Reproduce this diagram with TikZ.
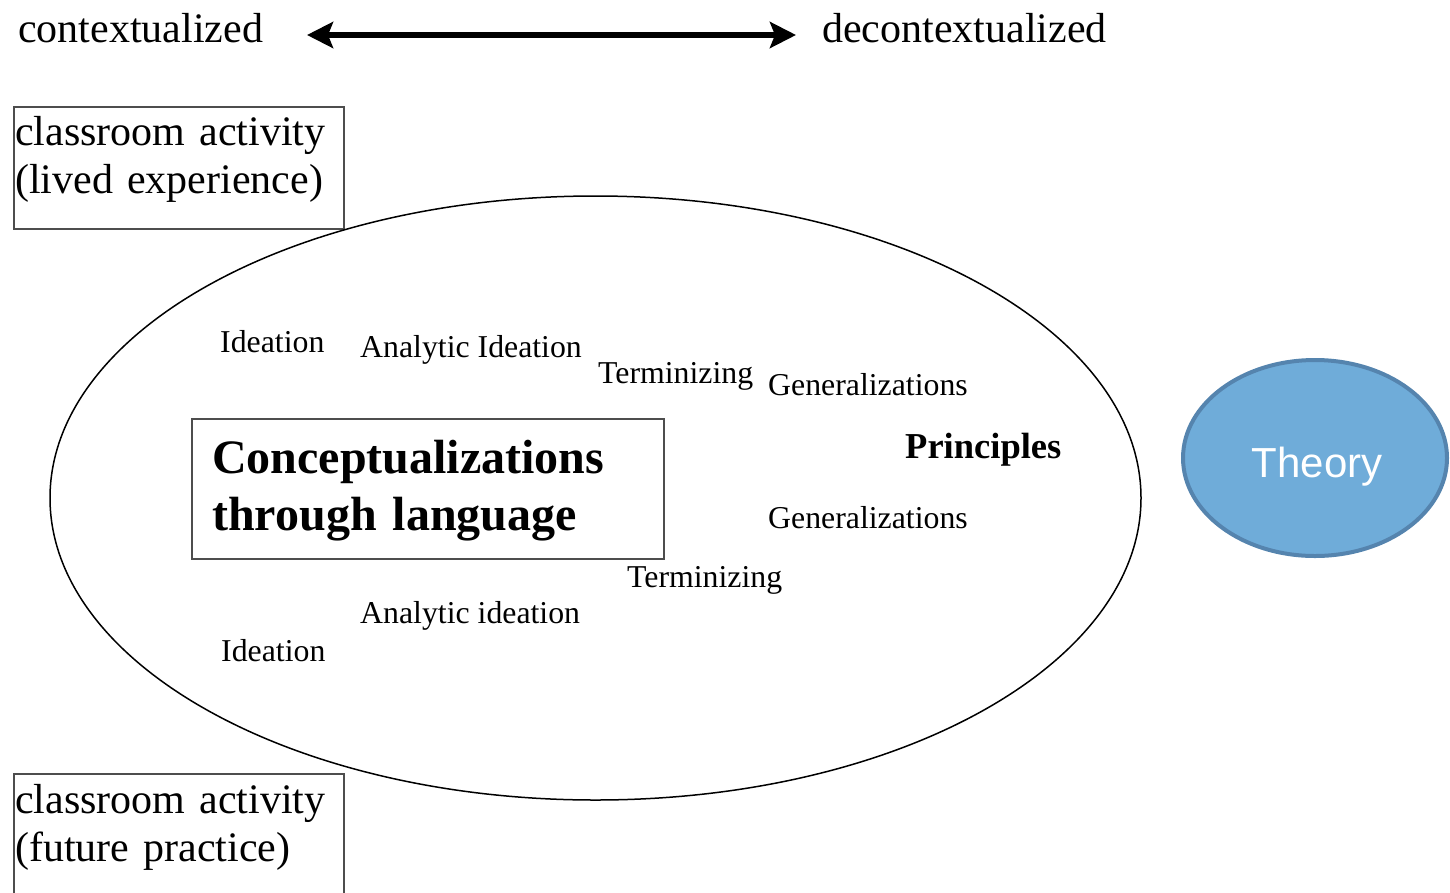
\documentclass[tikz,border=0pt]{standalone}
\usepackage{fontspec}
\setmainfont{Liberation Serif}
\newfontfamily\theoryfont{Liberation Sans}
\usepackage{xcolor}
\usepackage{tikz}
\usetikzlibrary{arrows.meta, positioning, shapes.geometric}
\definecolor{theoryfill}{HTML}{6FACD9}
\definecolor{theoryline}{HTML}{5584AE}
\definecolor{boxline}{HTML}{4D4D4D}

\begin{document}
\begin{tikzpicture}[x=1pt, y=-1pt,
    lbl/.style={anchor=base west, inner sep=0pt, font=\fontsize{42}{48}\selectfont},
    stage/.style={anchor=base west, inner sep=0pt, font=\fontsize{31.8}{36}\selectfont},
    frame/.style={draw=boxline, line width=2pt, anchor=north west, inner sep=0pt},
    bigtip/.tip={Stealth[length=26pt, width=26pt, inset=5pt]}]
    \useasboundingbox (0,0) rectangle (1450,892);
    \node[lbl] (ctx) at (18,42) {contextualized};
    \node[lbl] (dectx) at (822,42) {decontextualized};
    \coordinate (arrL) at (307,35);
    \coordinate (arrR) at (796,35);
    \draw[bigtip-bigtip, line width=6.5pt] (arrL) -- (arrR);
    \node[frame, minimum width=330, minimum height=122] (lived) at (13,106) {};
    \node[lbl, text width=330pt, align=left] (livedtxt) at (15,145)
      {classroom activity\\(lived experience)};
    \node[frame, minimum width=330, minimum height=140] (future) at (13,773) {};
    \node[lbl, text width=330pt, align=left] (futuretxt) at (15,813)
      {classroom activity\\(future practice)};
    \node[draw, ellipse, line width=1.5pt, inner sep=0pt,
      minimum width=1091, minimum height=604] (talk) at (595.5,498) {};
    \node[frame, minimum width=472, minimum height=140] (concept) at (191,418) {};
    \node[anchor=base west, inner sep=0pt, text width=460pt, align=left,
      font=\bfseries\fontsize{48}{57}\selectfont] (concepttxt) at (212,473)
      {Conceptualizations\\through language};
    \node[stage] (ideaT) at (220,352) {Ideation};
    \node[stage] (anaT) at (360,357) {Analytic Ideation};
    \node[stage] (termT) at (598,383) {Terminizing};
    \node[stage] (genT) at (768,395) {Generalizations};
    \node[anchor=base west, inner sep=0pt, font=\bfseries\fontsize{36.5}{40}\selectfont]
      (princ) at (905,458) {Principles};
    \node[stage] (genB) at (768,528) {Generalizations};
    \node[stage] (termB) at (627,587) {Terminizing};
    \node[stage] (anaB) at (360,623) {Analytic ideation};
    \node[stage] (ideaB) at (221,661) {Ideation};
    \node[ellipse, draw=theoryline, fill=theoryfill, line width=4pt,
      minimum width=264, minimum height=196] (theory) at (1315,458) {};
    \node[anchor=base, inner sep=0pt, text=white,
      font=\theoryfont\fontsize{42}{48}\selectfont] (theorytxt) at (1317,477) {Theory};
  \end{tikzpicture}
\end{document}
